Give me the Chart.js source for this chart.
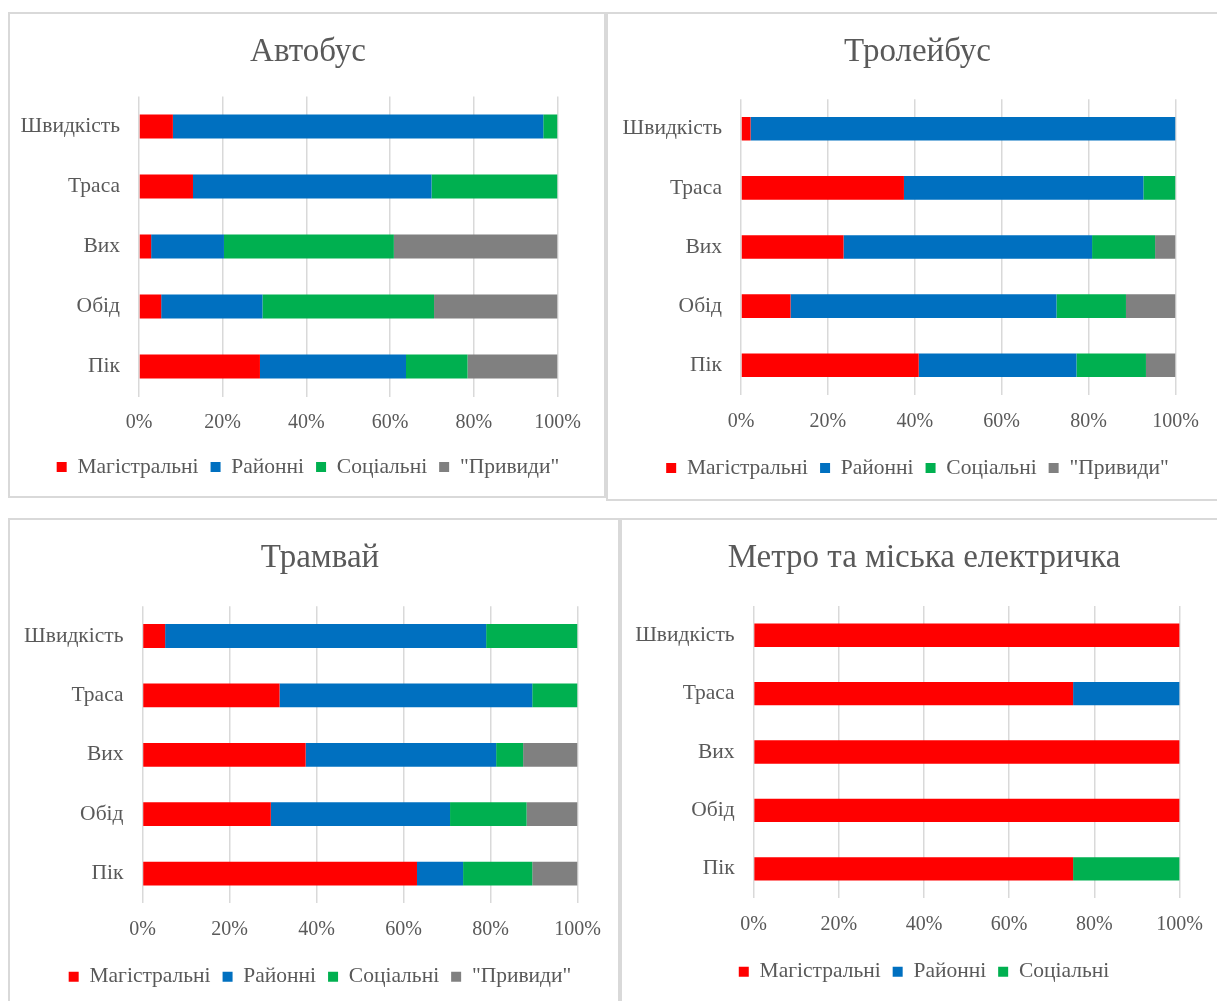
<!DOCTYPE html>
<html lang="uk">
<head>
<meta charset="utf-8">
<title>Типи маршрутів за видами транспорту</title>
<script src="https://cdn.jsdelivr.net/npm/chart.js@4.4.1/dist/chart.umd.min.js"></script>
<style>
  html, body { margin: 0; padding: 0; background: #fff; overflow: hidden; }
  body { width: 1217px; height: 1001px; position: relative; }
  .panel { position: absolute; }
  .panel canvas { position: absolute; left: 0; top: 0; }
  .frame { position: absolute; inset: 0; border: 2px solid #d9d9d9; box-sizing: border-box; pointer-events: none; }
</style>
</head>
<body>
<div class="panel" style="left:8px;top:12px;width:598px;height:486px">
  <canvas id="busChart" width="598" height="486"></canvas><div class="frame"></div>
</div>
<div class="panel" style="left:606px;top:12px;width:623px;height:489px">
  <canvas id="trolleyChart" width="623" height="489"></canvas><div class="frame"></div>
</div>
<div class="panel" style="left:8px;top:518px;width:612px;height:490px">
  <canvas id="tramChart" width="612" height="490"></canvas><div class="frame"></div>
</div>
<div class="panel" style="left:620px;top:518px;width:600px;height:490px">
  <canvas id="metroChart" width="600" height="490"></canvas><div class="frame"></div>
</div>

<script>
const categories = ["Швидкість", "Траса", "Вих", "Обід", "Пік"];
const seriesNames = ["Магістральні", "Районні", "Соціальні", "\"Привиди\""];
const seriesColors = ["#FF0000", "#0070C0", "#00B050", "#808080"];
const tickValues = [0, 20, 40, 60, 80, 100];

// Автобус
const busMain = [8.1, 12.9, 2.9, 5.3, 28.9];
const busDistrict = [88.5, 57.0, 17.4, 24.2, 34.9];
const busSocial = [3.4, 30.1, 40.6, 41.0, 14.7];
const busGhost = [0, 0, 39.1, 29.5, 21.5];

// Тролейбус
const trolleyMain = [2.2, 37.5, 23.6, 11.4, 40.9];
const trolleyDistrict = [97.8, 55.1, 57.2, 61.2, 36.3];
const trolleySocial = [0, 7.4, 14.5, 16.0, 16.0];
const trolleyGhost = [0, 0, 4.7, 11.4, 6.8];

// Трамвай
const tramMain = [5.2, 31.5, 37.5, 29.5, 63.1];
const tramDistrict = [73.8, 58.1, 43.8, 41.2, 10.6];
const tramSocial = [21.0, 10.4, 6.2, 17.6, 15.9];
const tramGhost = [0, 0, 12.5, 11.7, 10.4];

// Метро та міська електричка
const metroMain = [100, 75, 100, 100, 75];
const metroDistrict = [0, 25, 0, 0, 0];
const metroSocial = [0, 0, 0, 0, 25];

const textColor = "#595959";
const fontFamily = "'Liberation Serif', 'Times New Roman', serif";

function drawPanel(id, title, series, box) {
  const ctx = document.getElementById(id).getContext("2d");
  const labelFont = { family: fontFamily, size: 21.5 };
  const tickFont = { family: fontFamily, size: 20 };

  return new Chart(ctx, {
    type: "bar",
    data: {
      labels: categories,
      datasets: series.map((values, i) => ({
        label: seriesNames[i],
        data: values,
        backgroundColor: seriesColors[i],
        borderWidth: 0,
        barPercentage: 1,
        categoryPercentage: 0.4
      }))
    },
    options: {
      indexAxis: "y",
      responsive: false,
      animation: false,
      devicePixelRatio: 1,
      layout: { padding: { left: box.padLeft, right: 0, top: 0, bottom: box.padBottom } },
      plugins: {
        title: {
          display: true,
          text: title,
          color: textColor,
          font: { family: fontFamily, size: 33, weight: "normal" },
          padding: { top: box.titleTop, bottom: box.titleBottom }
        },
        legend: {
          position: "bottom",
          labels: { boxWidth: 10, boxHeight: 10, padding: 12, color: textColor, font: labelFont }
        },
        tooltip: { enabled: false }
      },
      scales: {
        x: {
          stacked: true,
          min: tickValues[0],
          max: tickValues[tickValues.length - 1],
          ticks: {
            stepSize: tickValues[1] - tickValues[0],
            callback: v => v + "%",
            padding: box.tickPad,
            color: textColor,
            font: tickFont
          },
          grid: { color: "#d9d9d9", lineWidth: 1.5, drawTicks: false },
          border: { display: false },
          afterFit: s => { s.height = box.xAxisH; }
        },
        y: {
          stacked: true,
          grid: { display: false, drawTicks: false },
          border: { display: false },
          ticks: { padding: 19, color: textColor, font: labelFont },
          afterFit: s => { s.width = box.yAxisW; }
        },
        // empty axis on the right, only keeps the margin after 100%
        spacer: {
          type: "linear",
          position: "right",
          grid: { display: false, drawTicks: false },
          border: { display: false },
          ticks: { display: false },
          afterFit: s => { s.width = box.rightW; }
        }
      }
    }
  });
}

drawPanel("busChart", "Автобус", [busMain, busDistrict, busSocial, busGhost],
  { padLeft: 2, yAxisW: 129, rightW: 48.5, titleTop: 20.2, titleBottom: 24.7, tickPad: 14.5, xAxisH: 47.75, padBottom: 10.25 });

drawPanel("trolleyChart", "Тролейбус", [trolleyMain, trolleyDistrict, trolleySocial, trolleyGhost],
  { padLeft: 0, yAxisW: 135, rightW: 53.5, titleTop: 20.2, titleBottom: 27.4, tickPad: 14.9, xAxisH: 50.45, padBottom: 12.25 });

drawPanel("tramChart", "Трамвай", [tramMain, tramDistrict, tramSocial, tramGhost],
  { padLeft: 12, yAxisW: 122.5, rightW: 42.5, titleTop: 20.2, titleBottom: 28.5, tickPad: 14.7, xAxisH: 50.65, padBottom: 10.55 });

drawPanel("metroChart", "Метро та міська електричка", [metroMain, metroDistrict, metroSocial],
  { padLeft: 8, yAxisW: 125.6, rightW: 40.4, titleTop: 20.2, titleBottom: 28.3, tickPad: 15, xAxisH: 50.95, padBottom: 15.55 });
</script>
</body>
</html>
